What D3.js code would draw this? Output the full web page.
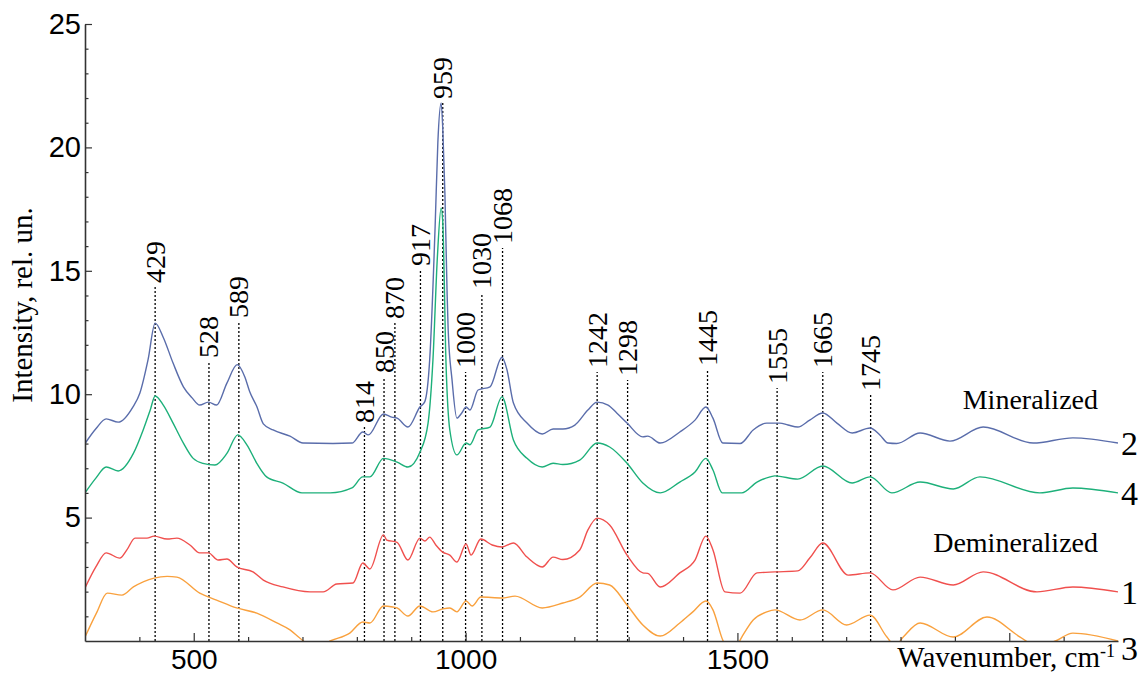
<!DOCTYPE html>
<html>
<head>
<meta charset="utf-8">
<script src="https://cdn.jsdelivr.net/npm/d3@7"></script>
<style>
  html, body { margin: 0; padding: 0; background: #fff; }
  svg { display: block; }
</style>
</head>
<body>
<svg id="chart" width="1142" height="675"></svg>
<script>
// ---------------- DATA ----------------
const xTicksMajor = [500, 1000, 1500, 2000];
const xTickLabels = ["500", "1000", "1500", ""];
const xTicksMinor = [400, 600, 700, 800, 900, 1100, 1200, 1300, 1400, 1600, 1700, 1800, 1900, 2100];
const yTicksMajor = [5, 10, 15, 20, 25];
const yTicksMinor = [1,2,3,4,6,7,8,9,11,12,13,14,16,17,18,19,21,22,23,24];

// peak markers: label text, position (cm-1), top of dotted line (intensity)
const peakLabels = ["429","528","589","814","850","870","917","959","1000","1030","1068","1242","1298","1445","1555","1665","1745"];
const peakPos    = [429, 528, 583, 814, 850, 870, 917, 958, 1000, 1030, 1068, 1242, 1298, 1445, 1573, 1657, 1745];
const peakTop    = [14.34, 11.30, 12.93, 8.67, 10.70, 12.88, 15.03, 21.80, 10.90, 14.10, 15.92, 10.90, 10.58, 10.98, 10.25, 10.90, 9.97];

// series: [wavenumber, intensity]
const series2 = [[300,8.0],[320,8.6],[339,9.0],[361,8.87],[388,9.48],[401,10.05],[416,11.4],[429,12.88],[444,12.3],[462,11.26],[481,10.3],[497,9.85],[511,9.56],[527,9.68],[542,9.56],[561,10.45],[580,11.2],[594,10.7],[603,10.1],[616,9.5],[628,8.8],[646,8.55],[677,8.3],[701,8.02],[756,8.0],[791,8.02],[811,8.47],[821,8.35],[849,9.2],[864,9.07],[874,9.03],[894,8.67],[916,9.48],[925,9.7],[934,11.4],[944,16.8],[949,20.2],[955,21.8],[958,20.8],[962,18.1],[966,14.1],[968,12.6],[975,10.6],[984,9.03],[993,9.24],[1001,9.48],[1008,9.36],[1023,10.17],[1045,10.3],[1067,11.5],[1076,11.0],[1088,9.64],[1113,8.83],[1141,8.39],[1161,8.59],[1179,8.59],[1201,8.75],[1225,9.36],[1242,9.68],[1262,9.56],[1278,9.24],[1297,8.83],[1326,8.27],[1335,8.3],[1358,8.02],[1394,8.47],[1422,8.95],[1442,9.48],[1455,9.03],[1473,8.02],[1505,8.0],[1529,8.55],[1554,8.83],[1578,8.83],[1593,8.75],[1611,8.67],[1633,8.95],[1657,9.24],[1683,8.83],[1711,8.43],[1744,8.63],[1762,8.35],[1777,8.02],[1793,8.0],[1836,8.43],[1891,8.1],[1952,8.67],[2044,8.02],[2117,8.23],[2200,8.02]];
const series4 = [[300,6.0],[320,6.6],[339,7.05],[361,6.89],[389,7.6],[407,8.55],[420,9.36],[429,9.93],[444,9.56],[462,8.83],[481,8.02],[499,7.4],[517,7.2],[539,7.13],[561,7.6],[581,8.35],[598,7.94],[616,7.2],[634,6.65],[664,6.4],[699,6.0],[751,6.0],[791,6.2],[811,6.65],[824,6.65],[849,7.4],[874,7.25],[894,7.05],[916,7.65],[931,8.83],[940,11.4],[948,15.5],[955,17.55],[958,17.0],[964,11.26],[971,8.55],[984,7.54],[1001,8.02],[1008,7.95],[1023,8.55],[1045,8.67],[1067,9.89],[1088,8.14],[1113,7.4],[1141,7.05],[1161,7.2],[1179,7.15],[1210,7.33],[1242,8.02],[1265,7.86],[1297,7.2],[1326,6.4],[1358,6.0],[1394,6.44],[1422,6.85],[1442,7.4],[1455,6.93],[1472,6.0],[1508,6.0],[1536,6.44],[1560,6.65],[1569,6.69],[1611,6.56],[1657,7.09],[1711,6.4],[1744,6.65],[1784,6.0],[1836,6.44],[1897,6.16],[1946,6.65],[2056,6.0],[2117,6.2],[2200,6.0]];
const series1 = [[300,2.15],[320,3.0],[339,3.57],[364,3.36],[377,3.69],[392,4.17],[414,4.17],[427,4.25],[451,4.13],[469,4.17],[493,3.89],[511,3.57],[527,3.57],[545,3.28],[561,3.32],[579,3.0],[609,2.8],[628,2.47],[664,2.19],[714,1.99],[738,1.99],[763,2.31],[793,2.35],[811,3.16],[824,2.92],[849,4.3],[855,4.09],[874,4.0],[894,3.28],[916,4.17],[925,4.05],[934,4.21],[945,3.9],[958,3.6],[971,3.48],[984,3.2],[1001,3.93],[1010,3.48],[1028,4.13],[1049,3.89],[1067,3.81],[1088,3.97],[1113,3.4],[1141,3.0],[1161,3.4],[1179,3.3],[1210,3.69],[1225,4.5],[1242,4.98],[1265,4.7],[1297,3.48],[1326,2.76],[1335,2.74],[1358,2.19],[1394,2.76],[1422,3.28],[1442,4.25],[1455,3.69],[1477,1.99],[1505,1.94],[1536,2.76],[1569,2.8],[1611,2.84],[1633,3.36],[1657,3.97],[1704,2.67],[1744,2.76],[1786,2.07],[1836,2.59],[1897,2.27],[1952,2.8],[2051,1.99],[2117,2.19],[2200,1.99]];
const series3 = [[300,0.16],[321,1.13],[341,1.94],[368,1.86],[389,2.19],[427,2.55],[451,2.62],[469,2.59],[511,1.94],[542,1.66],[579,1.34],[616,1.13],[653,0.73],[677,0.45],[695,0.12],[725,-0.3],[751,0.0],[787,0.32],[811,0.77],[824,0.73],[849,1.42],[866,1.38],[874,1.34],[894,1.01],[916,1.42],[940,1.18],[958,1.3],[971,1.34],[984,1.18],[1001,1.62],[1012,1.42],[1028,1.78],[1067,1.74],[1091,1.82],[1141,1.34],[1179,1.54],[1210,1.78],[1242,2.35],[1265,2.27],[1297,1.46],[1326,0.65],[1358,0.2],[1394,0.73],[1418,1.18],[1442,1.62],[1455,1.26],[1473,0.04],[1490,-0.5],[1508,0.16],[1529,0.85],[1554,1.18],[1569,1.26],[1615,0.85],[1657,1.26],[1701,0.65],[1744,1.05],[1775,0.16],[1790,-0.2],[1805,0.16],[1836,0.73],[1897,0.16],[1959,0.97],[2020,0.16],[2050,-0.2],[2085,0.0],[2117,0.32],[2200,0.0]];

const seriesNames  = ["2", "4", "1", "3"];
const seriesData   = [series2, series4, series1, series3];
const seriesColors = ["#5a6dab", "#1db07a", "#f0504e", "#f9a13e"];
const seriesLabelAt = [8.0, 6.0, 2.0, -0.3];

const groupLabels = ["Mineralized", "Demineralized"];
const groupLabelAt = [9.4, 3.6];

// ---------------- CHART ----------------
const svg = d3.select("#chart");
svg.append("rect").attr("width", 1142).attr("height", 675).attr("fill", "#fff");

const x = d3.scaleLinear().domain([300, 2200]).range([85, 1118]);
const y = d3.scaleLinear().domain([0, 25]).range([641, 24]);

const serif = "'Liberation Serif', 'Times New Roman', serif";
const sans = "'Liberation Sans', Arial, sans-serif";

svg.append("defs").append("clipPath").attr("id", "plotclip")
  .append("rect").attr("x", x(300)).attr("y", y(25)).attr("width", x(2200) - x(300)).attr("height", y(0) - y(25));

// dotted peak lines
const peaks = peakLabels.map((t, i) => ({ t, p: peakPos[i], top: peakTop[i] }));
svg.append("g").selectAll("line").data(peaks).join("line")
  .attr("x1", d => x(d.p)).attr("x2", d => x(d.p))
  .attr("y1", y(0)).attr("y2", d => y(d.top))
  .attr("stroke", "#000").attr("stroke-width", 1.3).attr("stroke-dasharray", "2,2");

// series lines
const line = d3.line().x(d => x(d[0])).y(d => y(d[1])).curve(d3.curveMonotoneX);
svg.append("g").attr("clip-path", "url(#plotclip)")
  .selectAll("path").data(seriesData).join("path")
  .attr("d", line).attr("fill", "none")
  .attr("stroke", (d, i) => seriesColors[i]).attr("stroke-width", 1.4);

// peak labels
svg.append("g").selectAll("text").data(peaks).join("text")
  .attr("transform", d => `translate(${x(d.p)},${y(d.top) - 4}) rotate(-90)`)
  .attr("dy", "0.34em")
  .attr("font-family", serif).attr("font-size", 28).attr("fill", "#000")
  .text(d => d.t);

// axes
const axisColor = "#333";
const gx = svg.append("g").attr("transform", `translate(0,${y(0)})`)
  .call(d3.axisBottom(x).tickValues(xTicksMajor).tickSizeInner(-8).tickSizeOuter(0).tickPadding(8)
    .tickFormat((d, i) => xTickLabels[i]));
svg.append("g").attr("transform", `translate(0,${y(0)})`)
  .call(d3.axisBottom(x).tickValues(xTicksMinor).tickSizeInner(-4).tickSizeOuter(0).tickFormat(""))
  .call(g => g.select(".domain").remove());
const gy = svg.append("g").attr("transform", `translate(${x(300)},0)`)
  .call(d3.axisLeft(y).tickValues(yTicksMajor).tickSizeInner(-7).tickSizeOuter(0).tickPadding(4));
svg.append("g").attr("transform", `translate(${x(300)},0)`)
  .call(d3.axisLeft(y).tickValues(yTicksMinor).tickSizeInner(-3.5).tickSizeOuter(0).tickFormat(""))
  .call(g => g.select(".domain").remove());

svg.selectAll(".domain").attr("stroke", axisColor).attr("stroke-width", 1.6);
svg.selectAll(".tick line").attr("stroke", axisColor).attr("stroke-width", 1.2);
gy.selectAll(".tick text").attr("font-family", sans).attr("font-size", 29).attr("fill", "#000");
gx.selectAll(".tick text").attr("font-family", sans).attr("font-size", 28).attr("fill", "#000");

// y-axis title
svg.append("text")
  .attr("transform", `translate(32,305) rotate(-90)`)
  .attr("text-anchor", "middle")
  .attr("font-family", serif).attr("font-size", 29).attr("fill", "#000")
  .text("Intensity, rel. un.");

// x-axis title
const xt = svg.append("text")
  .attr("x", 1115).attr("y", 667).attr("text-anchor", "end")
  .attr("font-family", serif).attr("font-size", 29).attr("fill", "#000");
xt.append("tspan").text("Wavenumber, cm");
xt.append("tspan").attr("dy", -10).attr("font-size", 18).text("-1");

// series numbers at right
svg.append("g").selectAll("text").data(seriesNames).join("text")
  .attr("x", 1121).attr("y", (d, i) => y(seriesLabelAt[i]))
  .attr("dy", "0.35em")
  .attr("font-family", serif).attr("font-size", 34).attr("fill", "#000")
  .text(d => d);

// group labels
svg.append("g").selectAll("text").data(groupLabels).join("text")
  .attr("x", 1098).attr("y", (d, i) => y(groupLabelAt[i]))
  .attr("text-anchor", "end")
  .attr("font-family", serif).attr("font-size", 28).attr("fill", "#000")
  .text(d => d);
</script>
</body>
</html>
